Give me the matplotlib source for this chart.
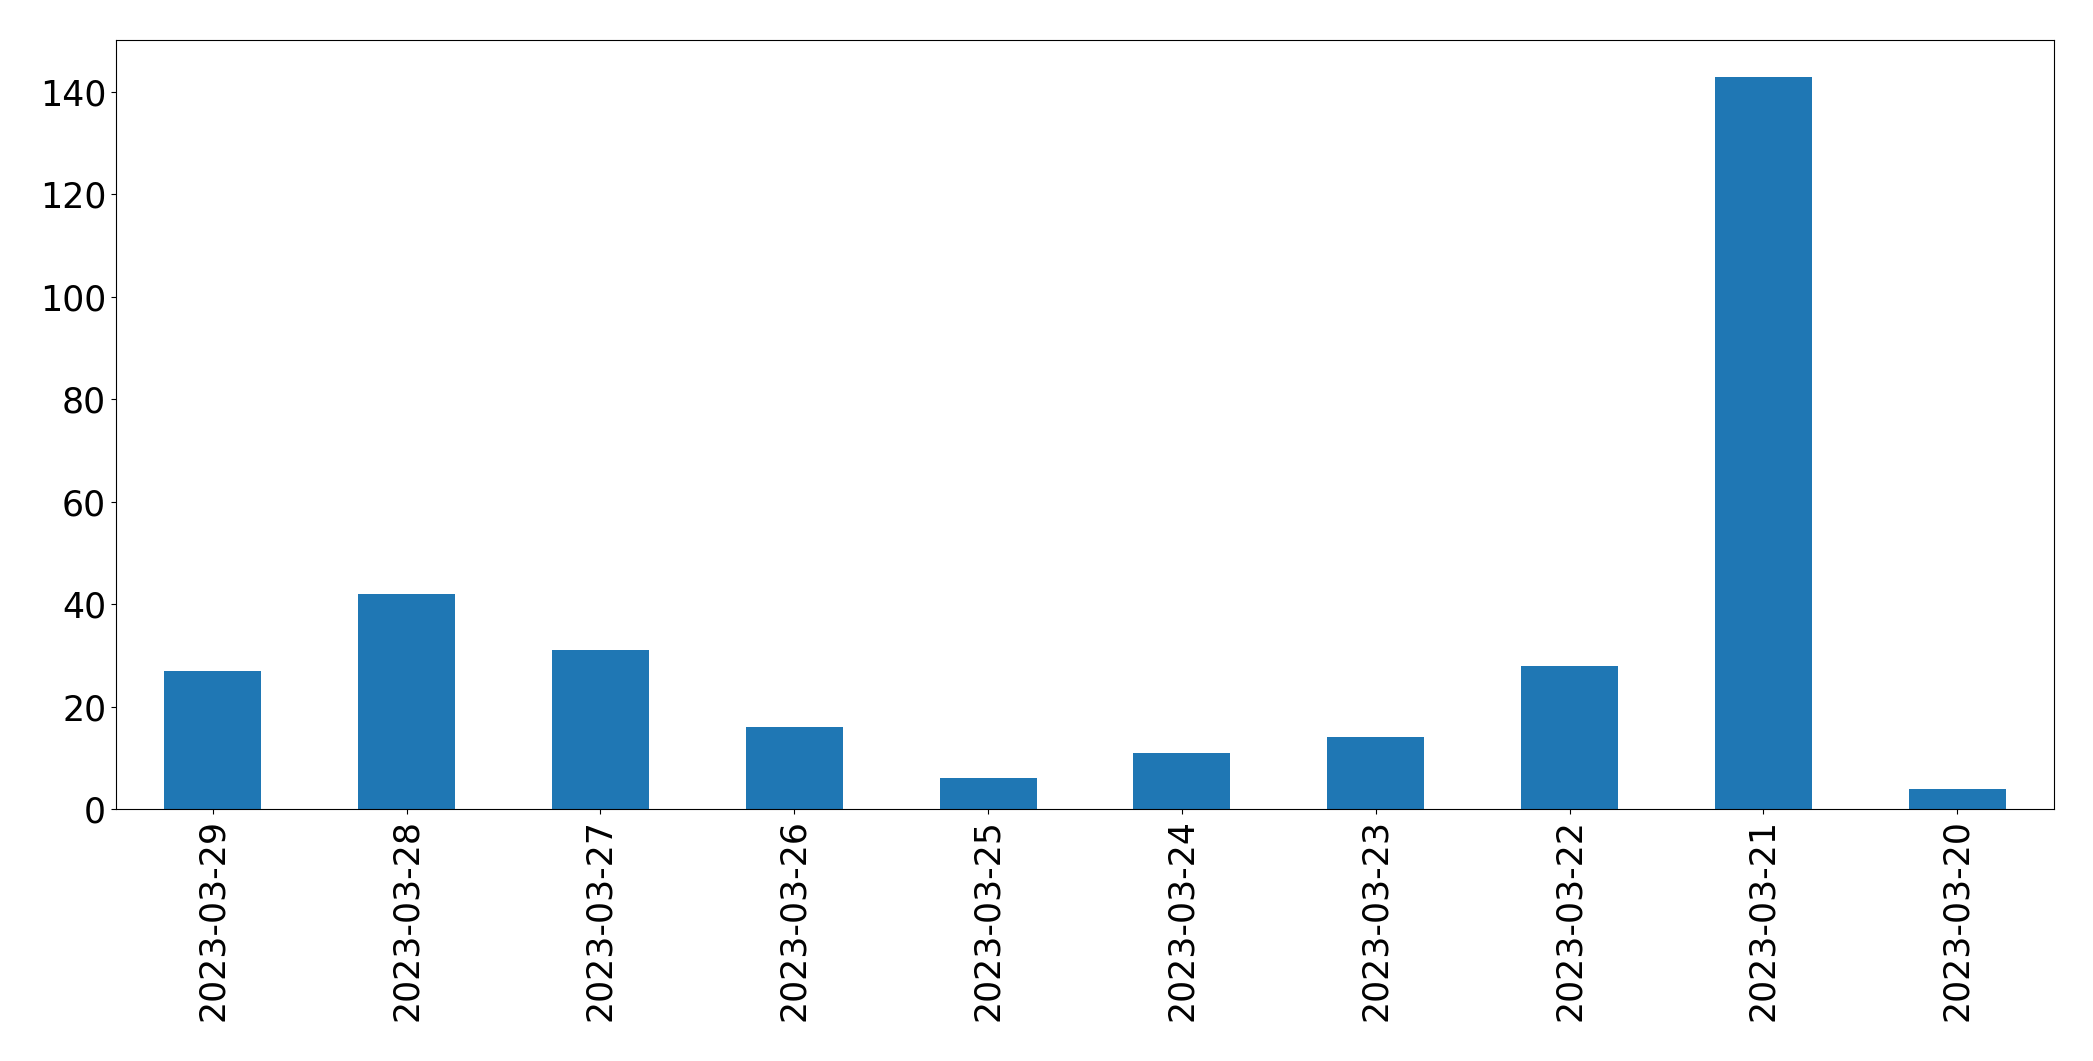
import matplotlib

matplotlib.use("Agg")
import matplotlib.pyplot as plt
import pandas as pd

dates = ["2023-03-29", "2023-03-28", "2023-03-27", "2023-03-26", "2023-03-25",
         "2023-03-24", "2023-03-23", "2023-03-22", "2023-03-21", "2023-03-20"]
counts = [27, 42, 31, 16, 6, 11, 14, 28, 143, 4]

series = pd.Series(counts, index=dates)

fig, ax = plt.subplots(figsize=(20.93, 10.61), dpi=100)
series.plot(kind="bar", ax=ax, color="#1f77b4", fontsize=25)
ax.tick_params(axis="both", labelsize=25)
fig.subplots_adjust(left=0.0554, right=0.9814, top=0.9623, bottom=0.2375)
fig.savefig("out.png", dpi=100)
plt.close(fig)
